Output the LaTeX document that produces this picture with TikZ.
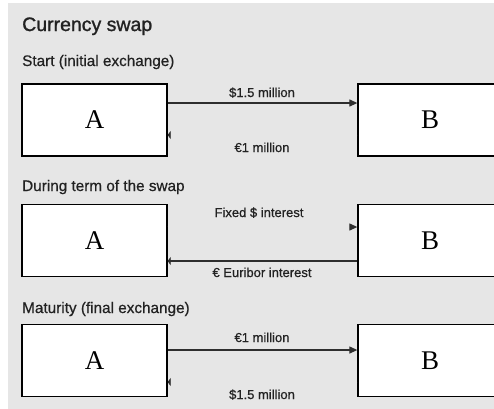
\documentclass[tikz,border=0pt]{standalone}
\usepackage{fontspec}
\setmainfont{Liberation Sans}[FakeBold=0.6]
\newfontfamily\titlefont{Liberation Sans}[FakeBold=1.2]
\newfontfamily\boxfont{Liberation Serif}
\usetikzlibrary{arrows.meta}
\definecolor{panelbg}{HTML}{E6E6E6}
\definecolor{ink}{HTML}{222222}
\definecolor{wire}{HTML}{2E2E2E}
\tikzset{
  party/.style={draw=black, line width=1.3pt, fill=white, minimum width=145pt,
    minimum height=72pt, inner sep=0pt, font=\boxfont\fontsize{27}{27}\selectfont},
  wideparty/.style={party, minimum width=160pt},
  heading/.style={anchor=base west, inner sep=0pt, text=ink, font=\titlefont\fontsize{19.5}{21}\selectfont},
  subhead/.style={anchor=base west, inner sep=0pt, text=ink, font=\fontsize{15.3}{17}\selectfont},
  flowlabel/.style={anchor=base, inner sep=0pt, text=ink, font=\fontsize{13}{15}\selectfont},
  flow/.style={draw=wire, line width=1.2pt, -{Triangle[length=8pt,width=7pt]}},
  flowstub/.style={draw=wire, line width=1.2pt, -{Triangle[length=3pt,width=8pt]}},
  ghostflow/.style={draw=panelbg, line width=1.2pt, -{Triangle[length=8pt,width=7pt,color=wire]}},
  ghoststub/.style={draw=panelbg, line width=1.2pt, -{Triangle[length=3pt,width=8pt,color=wire]}},
}
\begin{document}
\begin{tikzpicture}[x=1pt, y=-1pt]
\useasboundingbox (0,0) rectangle (494,408);
\clip (0,0) rectangle (494,408);
\fill[white] (0,0) rectangle (494,408);
\fill[panelbg] (8,3) rectangle (500,412);

% headings
\node[heading] (title) at (22,31) {Currency swap};
\node[subhead] (h1) at (22,66) {Start (initial exchange)};
\node[subhead] (h2) at (22,191) {During term of the swap};
\node[subhead] (h3) at (22,313) {Maturity (final exchange)};

% counterparties (the B boxes run past the right edge)
\node[party] (A1) at (94.5,120) {A};
\node[wideparty] (B1) at (438,120) {\hspace*{-16pt}B};
\node[party] (A2) at (94.5,240.5) {A};
\node[wideparty] (B2) at (438,240.5) {\hspace*{-16pt}B};
\node[party] (A3) at (94.5,360.5) {A};
\node[wideparty] (B3) at (438,360.5) {\hspace*{-16pt}B};

% start: principal exchange
\draw[flow] ([yshift=17pt]A1.east) -- ([yshift=17pt]B1.west);
\draw[ghoststub] ([yshift=-15pt]B1.west) -- ([yshift=-15pt]A1.east);
\node[flowlabel] (l1) at (262,97) {\$1.5 million};
\node[flowlabel] (l2) at (262,152) {€1 million};

% during term: interest payments
\draw[ghostflow] ([yshift=13.5pt]A2.east) -- ([yshift=13.5pt]B2.west);
\draw[flowstub] ([yshift=-20.5pt]B2.west) -- ([yshift=-20.5pt]A2.east);
\node[flowlabel] (l3) at (259,217) {Fixed \$ interest};
\node[flowlabel] (l4) at (262,277) {€ Euribor interest};

% maturity: principal re-exchange
\draw[flow] ([yshift=10.5pt]A3.east) -- ([yshift=10.5pt]B3.west);
\draw[ghoststub] ([yshift=-21.5pt]B3.west) -- ([yshift=-21.5pt]A3.east);
\node[flowlabel] (l5) at (262,342) {€1 million};
\node[flowlabel] (l6) at (262,399) {\$1.5 million};
\end{tikzpicture}
\end{document}
